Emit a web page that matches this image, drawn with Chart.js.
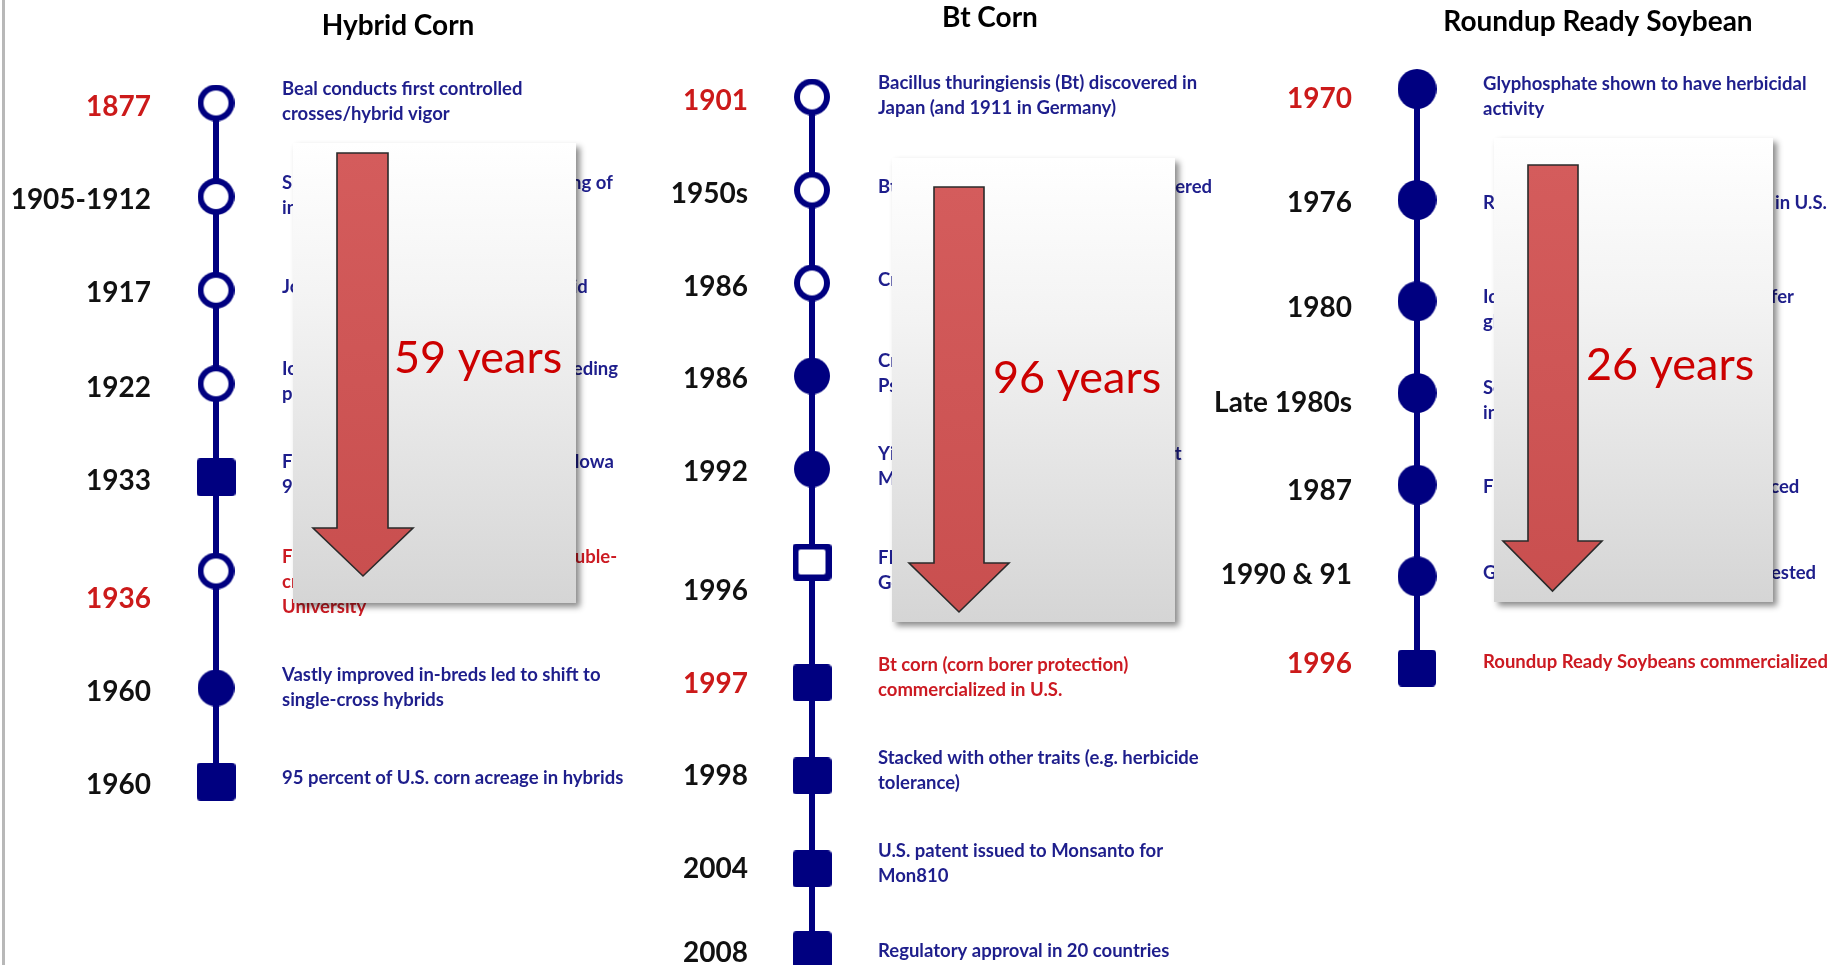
<!DOCTYPE html>
<html><head><meta charset="utf-8">
<script src="https://cdn.jsdelivr.net/npm/chart.js@4.4.0/dist/chart.umd.min.js"></script>
<style>
html,body{margin:0;padding:0;background:#fff;width:1837px;height:965px;overflow:hidden;}
canvas{position:absolute;top:0;}
</style></head><body>
<canvas id="c0"></canvas><canvas id="c1"></canvas><canvas id="c2"></canvas>
<script>
// ================= DATA =================
const titles = ['Hybrid Corn', 'Bt Corn', 'Roundup Ready Soybean'];
const spanYears = [59, 96, 26];

// Hybrid Corn
const hybridYears = ['1877', '1905-1912', '1917', '1922', '1933', '1936', '1960', '1960'];
const hybridSteps = [0, 1, 2, 3, 4, 5, 6.25, 7.25];
const hybridMarkers = ['openCircle', 'openCircle', 'openCircle', 'openCircle', 'filledSquare', 'openCircle', 'filledCircle', 'filledSquare'];
const hybridRedLabel = [true, false, false, false, false, true, false, false];
const hybridRedText = [false, false, false, false, false, true, false, false];
const hybridEvents = [
  ['Beal conducts first controlled', 'crosses/hybrid vigor'],
  ['Shull and East demonstrate a crossing of', 'inbred lines'],
  ['Jones develops a double-cross hybrid'],
  ['Iowa Station begins hybrid corn breeding', 'program'],
  ['First hybrid fields planted widely in Iowa', '95,000 acres'],
  ['First commercially successful US double-', 'cross hybrid from Iowa State', 'University'],
  ['Vastly improved in-breds led to shift to', 'single-cross hybrids'],
  ['95 percent of U.S. corn acreage in hybrids']
];

// Bt Corn
const btYears = ['1901', '1950s', '1986', '1986', '1992', '1996', '1997', '1998', '2004', '2008'];
const btSteps = [0, 1, 2, 3, 4, 5, 6.3, 7.3, 8.3, 9.17];
const btMarkers = ['openCircle', 'openCircle', 'openCircle', 'filledCircle', 'filledCircle', 'openSquare', 'filledSquare', 'filledSquare', 'filledSquare', 'filledSquare'];
const btRedLabel = [true, false, false, false, false, false, true, false, false, false];
const btRedText = [false, false, false, false, false, false, true, false, false, false];
const btEvents = [
  ['Bacillus thuringiensis (Bt) discovered in', 'Japan (and 1911 in Germany)'],
  ['Bt products first commercially registered'],
  ['Cry genes cloned'],
  ['Cry gene transferred into', 'Pseudomonas'],
  ['Yield trials of the first Bt corn variant', 'Mon810'],
  ['FDA approves Bt corn', 'Gene event registered'],
  ['Bt corn (corn borer protection)', 'commercialized in U.S.'],
  ['Stacked with other traits (e.g. herbicide', 'tolerance)'],
  ['U.S. patent issued to Monsanto for', 'Mon810'],
  ['Regulatory approval in 20 countries']
];

// Roundup Ready Soybean
const soyYears = ['1970', '1976', '1980', 'Late 1980s', '1987', '1990 & 91', '1996'];
const soySteps = [0, 1.15, 2.2, 3.15, 4.1, 5.05, 6];
const soyMarkers = ['filledCircle', 'filledCircle', 'filledCircle', 'filledCircle', 'filledCircle', 'filledCircle', 'filledSquare'];
const soyRedLabel = [true, false, false, false, false, false, true];
const soyRedText = [false, false, false, false, false, false, true];
const soyEvents = [
  ['Glyphosphate shown to have herbicidal', 'activity'],
  ['Roundup herbicide commercialized in U.S.'],
  ['Identification of the genes that confer', 'glyphosate tolerance'],
  ['Scientists develop gene transfer', 'into plants'],
  ['First tolerant soybean plants produced'],
  ['Glyphosate tolerant soybean field tested'],
  ['Roundup Ready Soybeans commercialized']
];

// ================= LAYOUT / STYLE =================
const W = 1837, H = 965;
const NAVY = '#000080';
const TXT_BLUE = '#1e1e8c';
const TXT_RED = '#cc1a22';
const LBL_RED = '#cc1a1a';
const FONT = 'Lato, "Open Sans", sans-serif';
const DESC_SIZE = 18.5, LABEL_SIZE = 28, TITLE_SIZE = 28, SPAN_SIZE = 45;

const LAYOUT = [
  { left: 0, width: 632, markerX: 216, y0: 103, step: 93.6, labelRight: 151, textLeft: 282,
    titleX: 398, titleY: 25, circle: [37, 37], square: [39, 38], ring: 6, lineW: 6,
    labelNudge: [3, 2, 2, 3, 3, 27, 3, 2], textNudge: [-1, -1, -3, -2, -2, 11, 0, -3],
    box: [293, 143, 576, 603], shaft: [337, 388, 153], head: [313, 413, 528, 576], spanAt: [394, 373] },
  { left: 630, width: 592, markerX: 812, y0: 97, step: 93, labelRight: 748, textLeft: 878,
    titleX: 990, titleY: 17, circle: [36, 37], square: [39, 37], ring: 6, lineW: 6,
    labelNudge: [3, 3, 3, 2, 2, 28, 0, -1, -1, 2], textNudge: [-1, -3, -3, -2, -2, 9, -5, -5, -5, 2],
    box: [892, 158, 1175, 622], shaft: [934, 984, 187], head: [909, 1009, 563, 612], spanAt: [993, 393] },
  { left: 1200, width: 637, markerX: 1417, y0: 89, step: 96.5, labelRight: 1352, textLeft: 1483,
    titleX: 1598, titleY: 21, circle: [39, 40], square: [38, 37], ring: 6, lineW: 6,
    labelNudge: [9, 2, 6, 9, 5, -2, -5], textNudge: [8, 3, 9, 8, 3, -3, -6],
    box: [1494, 138, 1773, 602], shaft: [1528, 1578, 165], head: [1503, 1602, 541, 591], spanAt: [1586, 380] }
];

const columns = [
  { title: titles[0], years: hybridYears, steps: hybridSteps, markers: hybridMarkers, events: hybridEvents, redLabel: hybridRedLabel, redText: hybridRedText, span: spanYears[0] },
  { title: titles[1], years: btYears, steps: btSteps, markers: btMarkers, events: btEvents, redLabel: btRedLabel, redText: btRedText, span: spanYears[1] },
  { title: titles[2], years: soyYears, steps: soySteps, markers: soyMarkers, events: soyEvents, redLabel: soyRedLabel, redText: soyRedText, span: spanYears[2] }
];

function rr(g, x, y, w, h, r) {
  g.beginPath();
  g.moveTo(x + r, y); g.lineTo(x + w - r, y); g.quadraticCurveTo(x + w, y, x + w, y + r);
  g.lineTo(x + w, y + h - r); g.quadraticCurveTo(x + w, y + h, x + w - r, y + h);
  g.lineTo(x + r, y + h); g.quadraticCurveTo(x, y + h, x, y + h - r);
  g.lineTo(x, y + r); g.quadraticCurveTo(x, y, x + r, y); g.closePath();
}

function markerImg(type, L) {
  const isCircle = type.indexOf('Circle') >= 0;
  const [w, h] = isCircle ? L.circle : L.square;
  const c = document.createElement('canvas');
  c.width = w; c.height = h;
  const g = c.getContext('2d');
  g.fillStyle = NAVY;
  const open = type.indexOf('open') === 0;
  if (isCircle) {
    g.beginPath(); g.ellipse(w / 2, h / 2, w / 2, h / 2, 0, 0, Math.PI * 2); g.fill();
    if (open) { g.fillStyle = '#fff'; g.beginPath(); g.ellipse(w / 2, h / 2, w / 2 - L.ring, h / 2 - L.ring, 0, 0, Math.PI * 2); g.fill(); }
  } else {
    rr(g, 0, 0, w, h, 4); g.fill();
    if (open) { g.fillStyle = '#fff'; rr(g, L.ring, L.ring, w - 2 * L.ring, h - 2 * L.ring, 2); g.fill(); }
  }
  return c;
}

function drawOverlay(ctx, L, off, span) {
  const [x0, y0, x1, y1] = L.box;
  ctx.save();
  ctx.shadowColor = 'rgba(0,0,0,0.45)';
  ctx.shadowOffsetX = 4; ctx.shadowOffsetY = 4; ctx.shadowBlur = 6;
  const gr = ctx.createLinearGradient(0, y0, 0, y1);
  gr.addColorStop(0, '#ffffff'); gr.addColorStop(0.35, '#f3f3f3'); gr.addColorStop(1, '#d5d5d5');
  ctx.fillStyle = gr;
  ctx.fillRect(x0 - off, y0, x1 - x0, y1 - y0);
  ctx.restore();

  const [sx0, sx1, top] = L.shaft;
  const [hx0, hx1, hy, tipY] = L.head;
  const tipX = (hx0 + hx1) / 2;
  ctx.save();
  ctx.beginPath();
  ctx.moveTo(sx0 - off, top); ctx.lineTo(sx1 - off, top); ctx.lineTo(sx1 - off, hy);
  ctx.lineTo(hx1 - off, hy); ctx.lineTo(tipX - off, tipY); ctx.lineTo(hx0 - off, hy);
  ctx.lineTo(sx0 - off, hy); ctx.closePath();
  const ag = ctx.createLinearGradient(0, top, 0, tipY);
  ag.addColorStop(0, '#d45c5c'); ag.addColorStop(1, '#c94f4f');
  ctx.fillStyle = ag; ctx.fill();
  ctx.lineWidth = 1.6; ctx.strokeStyle = '#2a2a2a'; ctx.lineJoin = 'miter'; ctx.stroke();
  ctx.restore();

  ctx.save();
  ctx.font = SPAN_SIZE + 'px ' + FONT;
  ctx.fillStyle = '#cc0000';
  ctx.textAlign = 'left'; ctx.textBaseline = 'alphabetic';
  ctx.fillText(span + ' years', L.spanAt[0] - off, L.spanAt[1]);
  ctx.restore();
}

function timelinePlugin(col, L, idx) {
  return {
    id: 'timeline' + idx,
    afterDatasetsDraw(chart) {
      const ctx = chart.ctx, ys = chart.scales.y, off = L.left;
      ctx.save();
      ctx.textBaseline = 'alphabetic';
      ctx.font = 'bold ' + TITLE_SIZE + 'px ' + FONT;
      ctx.fillStyle = '#000'; ctx.textAlign = 'center';
      ctx.fillText(col.title, L.titleX - off, L.titleY + 0.36 * TITLE_SIZE);
      col.years.forEach((yr, k) => {
        const py = ys.getPixelForValue(col.steps[k]);
        ctx.font = 'bold ' + LABEL_SIZE + 'px ' + FONT;
        ctx.textAlign = 'right';
        ctx.fillStyle = col.redLabel[k] ? LBL_RED : '#111';
        ctx.fillText(yr, L.labelRight - off, py + L.labelNudge[k] + 0.36 * LABEL_SIZE);
        const lines = col.events[k];
        ctx.font = 'bold ' + DESC_SIZE + 'px ' + FONT;
        ctx.textAlign = 'left';
        ctx.fillStyle = col.redText[k] ? TXT_RED : TXT_BLUE;
        const c = py + L.textNudge[k];
        lines.forEach((ln, j) => {
          ctx.fillText(ln, L.textLeft - off, c + (j - (lines.length - 1) / 2) * 25 + 0.3 * DESC_SIZE);
        });
      });
      ctx.restore();
    },
    afterDraw(chart) {
      const ctx = chart.ctx;
      drawOverlay(ctx, L, L.left, col.span);
      if (idx === 0) {
        ctx.save(); ctx.fillStyle = '#b8b8b8'; ctx.fillRect(2, 0, 3, H); ctx.restore();
      }
    }
  };
}

columns.forEach((col, i) => {
  const L = LAYOUT[i];
  const cv = document.getElementById('c' + i);
  cv.width = L.width; cv.height = H;
  cv.style.left = L.left + 'px';
  cv.style.width = L.width + 'px'; cv.style.height = H + 'px';
  const mx = L.markerX - L.left;
  const yMin = -L.y0 / L.step, yMax = (H - L.y0) / L.step;
  new Chart(cv, {
    type: 'scatter',
    data: {
      datasets: [{
        data: col.steps.map(s => ({ x: 0, y: s })),
        showLine: true,
        borderColor: NAVY,
        borderWidth: L.lineW,
        pointStyle: col.markers.map(m => markerImg(m, L)),
        pointRadius: 18,
        pointHoverRadius: 18,
        clip: false
      }]
    },
    options: {
      responsive: false, animation: false, devicePixelRatio: 1, events: [],
      layout: { padding: 0, autoPadding: false },
      scales: {
        x: { type: 'linear', display: false, min: -mx, max: L.width - mx },
        y: { type: 'linear', display: false, reverse: true, min: yMin, max: yMax }
      },
      plugins: { legend: { display: false }, tooltip: { enabled: false }, title: { display: false } }
    },
    plugins: [timelinePlugin(col, L, i)]
  });
});
</script>
</body></html>
